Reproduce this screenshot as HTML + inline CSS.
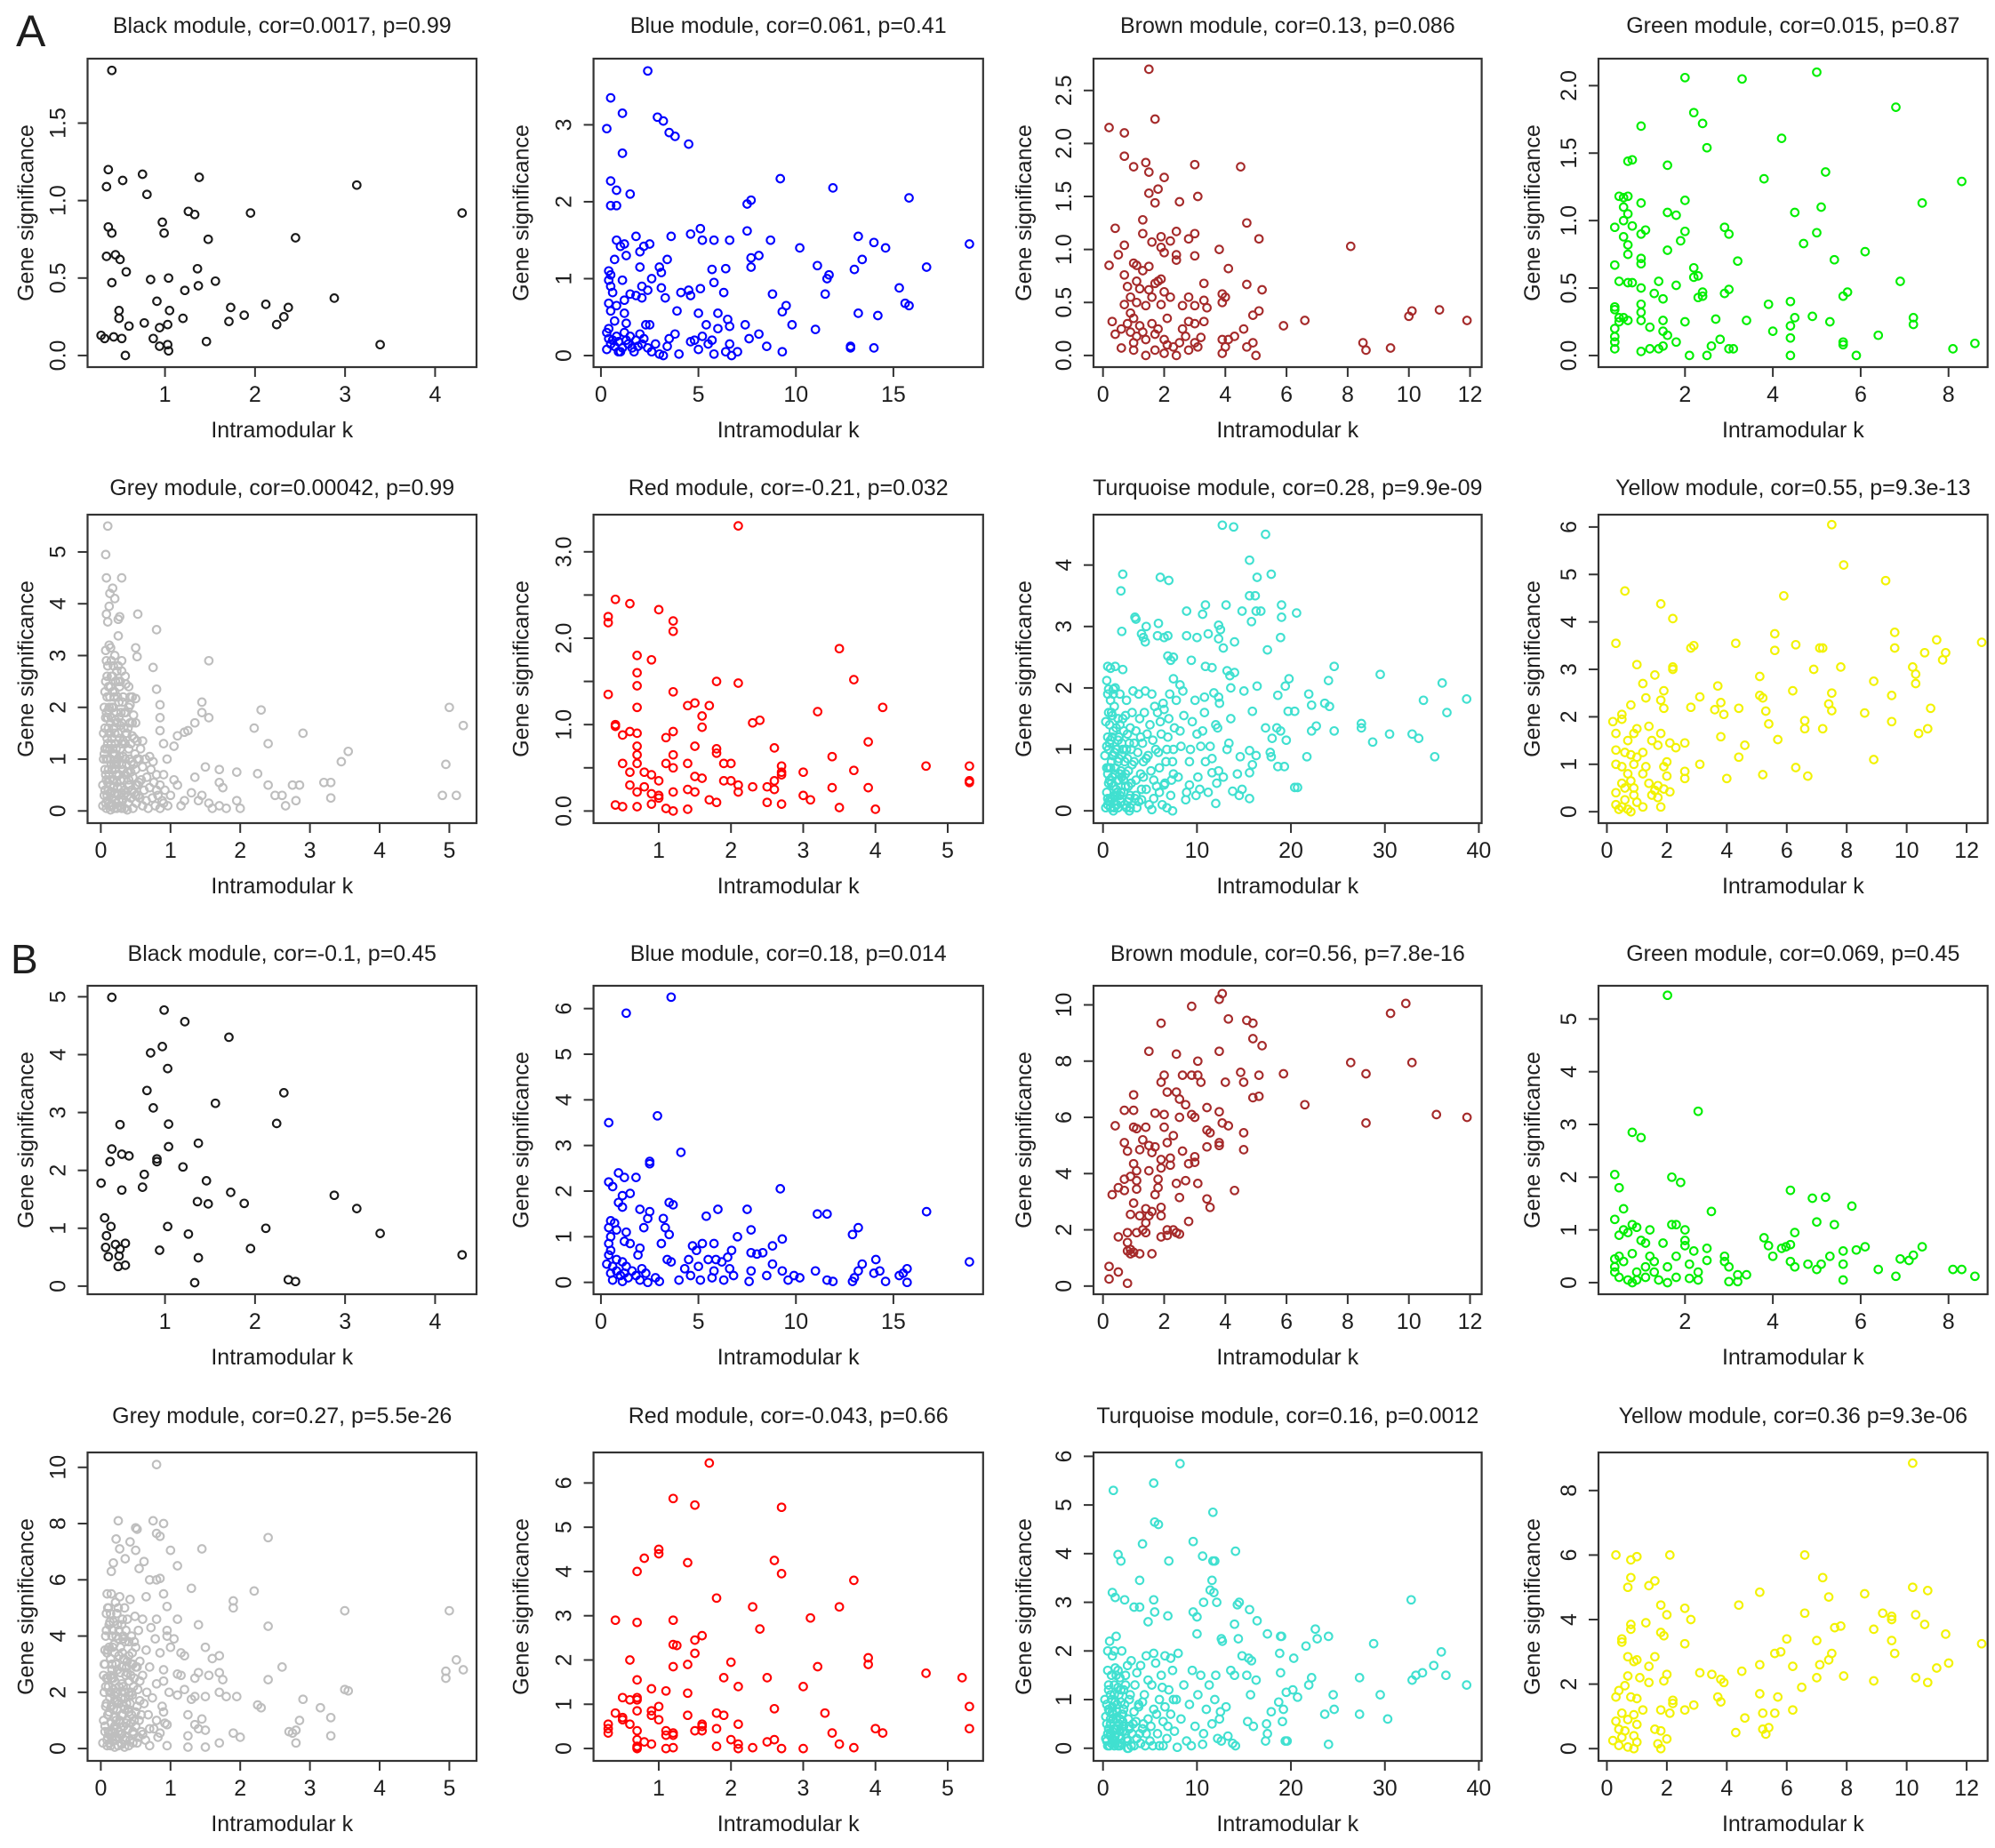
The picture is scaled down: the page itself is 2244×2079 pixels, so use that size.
<!DOCTYPE html>
<html><head><meta charset="utf-8">
<style>
html,body{margin:0;padding:0;background:#fff;}
svg{display:block;}
text{font-family:"Liberation Sans",Arial,sans-serif;fill:#1e1e1e;}
</style></head>
<body>
<svg id="fig" width="2244" height="2079" viewBox="0 0 2244 2079" xmlns="http://www.w3.org/2000/svg">
<rect width="2244" height="2079" fill="#fff"/>
<text x="18" y="52" font-size="50">A</text>
<text x="12" y="1095" font-size="46">B</text>
</svg>
<script>
// ---------- data (x = Intramodular k, y = Gene significance) ----------
const blackA=[[0.41,1.84],[0.37,1.20],[0.35,1.09],[0.53,1.13],[0.75,1.17],[0.80,1.04],[1.38,1.15],[3.13,1.10],[1.26,0.93],[1.33,0.91],[1.95,0.92],[4.30,0.92],[0.97,0.86],[0.99,0.79],[0.37,0.83],[0.41,0.79],[1.48,0.75],[2.45,0.76],[0.35,0.64],[0.45,0.65],[0.50,0.62],[0.57,0.54],[1.36,0.56],[0.41,0.47],[0.84,0.49],[1.04,0.50],[1.37,0.45],[1.56,0.48],[0.91,0.35],[1.22,0.42],[2.12,0.33],[2.88,0.37],[0.49,0.29],[1.05,0.29],[1.73,0.31],[2.37,0.31],[0.49,0.24],[0.77,0.21],[1.20,0.24],[1.71,0.22],[1.88,0.26],[2.32,0.25],[2.24,0.20],[0.60,0.19],[0.94,0.18],[1.03,0.20],[0.29,0.13],[0.33,0.11],[0.43,0.12],[0.52,0.11],[0.87,0.11],[0.94,0.06],[1.03,0.07],[1.04,0.03],[1.46,0.09],[3.39,0.07],[0.56,0.00]];
const blueA=[[2.4,3.7],[0.5,3.35],[0.3,2.95],[1.1,3.15],[2.9,3.1],[3.2,3.05],[3.5,2.9],[3.8,2.85],[4.5,2.75],[1.1,2.63],[0.5,2.27],[0.8,2.15],[1.5,2.1],[0.5,1.95],[0.8,1.95],[9.2,2.3],[11.9,2.18],[15.8,2.05],[7.5,1.97],[7.7,2.02],[1.8,1.55],[0.8,1.5],[1.0,1.42],[1.2,1.45],[2.0,1.35],[2.2,1.42],[2.5,1.45],[3.6,1.55],[4.6,1.58],[5.1,1.65],[5.2,1.5],[5.8,1.5],[6.6,1.5],[7.5,1.62],[8.7,1.5],[10.2,1.4],[13.2,1.55],[14.0,1.47],[14.6,1.4],[18.9,1.45],[8.1,1.3],[7.7,1.27],[3.4,1.25],[0.7,1.25],[1.3,1.3],[2.0,1.15],[3.0,1.15],[5.7,1.12],[6.4,1.13],[7.7,1.15],[11.1,1.17],[11.7,1.05],[13.0,1.12],[13.4,1.25],[16.7,1.15],[0.4,1.1],[0.5,1.05],[0.4,0.98],[1.1,0.98],[2.6,1.0],[3.1,1.08],[5.8,0.95],[11.6,1.0],[15.3,0.88],[0.5,0.9],[0.6,0.82],[1.5,0.8],[1.8,0.78],[2.1,0.9],[2.4,0.85],[3.1,0.88],[3.3,0.75],[4.1,0.82],[4.5,0.85],[4.6,0.78],[5.1,0.87],[6.3,0.82],[8.8,0.8],[11.5,0.8],[0.4,0.68],[0.8,0.65],[1.2,0.72],[2.1,0.75],[0.5,0.58],[1.2,0.55],[3.9,0.58],[5.0,0.55],[6.0,0.55],[9.3,0.57],[9.5,0.65],[13.2,0.55],[14.2,0.52],[15.6,0.68],[15.8,0.65],[0.7,0.45],[1.3,0.42],[2.3,0.4],[2.5,0.4],[5.4,0.4],[6.5,0.47],[6.6,0.38],[7.4,0.4],[9.8,0.4],[11.0,0.34],[6.0,0.35],[0.3,0.3],[0.4,0.22],[0.5,0.15],[0.6,0.2],[0.7,0.12],[0.8,0.25],[0.9,0.18],[1.0,0.05],[1.1,0.1],[1.2,0.3],[1.3,0.2],[1.4,0.15],[1.5,0.25],[1.6,0.1],[1.8,0.2],[1.9,0.12],[2.0,0.28],[2.1,0.15],[2.2,0.22],[2.4,0.1],[2.6,0.05],[2.8,0.15],[3.0,0.02],[3.2,0.0],[3.4,0.12],[3.5,0.22],[3.8,0.28],[4.0,0.02],[4.6,0.18],[4.8,0.2],[5.0,0.08],[5.2,0.25],[5.5,0.15],[5.7,0.2],[5.8,0.02],[6.4,0.05],[6.6,0.15],[6.7,0.0],[7.0,0.05],[7.6,0.22],[8.1,0.28],[8.5,0.12],[9.3,0.05],[12.8,0.12],[12.8,0.1],[14.0,0.1],[0.4,0.35],[0.9,0.05],[0.3,0.08],[1.7,0.05]];
const brownA=[[1.5,2.7],[0.2,2.15],[0.7,2.1],[1.7,2.23],[0.7,1.88],[1.4,1.82],[1.0,1.78],[1.5,1.73],[3.0,1.8],[4.5,1.78],[2.0,1.68],[1.8,1.57],[1.5,1.53],[1.7,1.44],[2.5,1.45],[3.1,1.5],[1.3,1.28],[0.4,1.2],[4.7,1.25],[1.3,1.15],[2.4,1.17],[3.0,1.15],[1.9,1.12],[2.2,1.08],[2.8,1.1],[5.1,1.1],[0.7,1.04],[1.6,1.07],[1.9,1.02],[8.1,1.03],[3.8,1.0],[0.5,0.95],[2.0,0.97],[2.4,0.95],[3.0,0.94],[2.4,0.9],[0.2,0.85],[1.0,0.87],[1.1,0.85],[1.5,0.84],[4.1,0.82],[0.7,0.76],[1.3,0.8],[1.9,0.72],[1.7,0.68],[3.3,0.68],[4.7,0.67],[0.8,0.65],[1.2,0.63],[1.5,0.62],[2.0,0.6],[1.1,0.7],[1.8,0.7],[5.2,0.62],[3.9,0.58],[4.0,0.55],[2.8,0.55],[0.9,0.55],[1.6,0.55],[2.2,0.55],[0.7,0.48],[1.1,0.5],[1.4,0.47],[1.9,0.48],[2.6,0.47],[3.0,0.47],[3.4,0.45],[3.3,0.52],[3.9,0.5],[5.1,0.42],[4.9,0.38],[10.1,0.42],[10.0,0.37],[11.0,0.43],[11.9,0.33],[6.6,0.33],[5.9,0.28],[0.3,0.32],[0.4,0.2],[0.6,0.25],[0.8,0.3],[0.9,0.22],[1.0,0.35],[1.1,0.18],[1.2,0.28],[1.3,0.22],[1.4,0.15],[1.6,0.3],[1.7,0.2],[1.8,0.25],[2.0,0.15],[2.1,0.1],[2.3,0.08],[2.5,0.12],[2.6,0.25],[2.7,0.18],[2.8,0.32],[3.0,0.12],[3.1,0.08],[3.3,0.32],[3.2,0.17],[3.9,0.15],[4.1,0.15],[4.3,0.18],[4.6,0.25],[4.7,0.08],[4.9,0.12],[5.0,0.0],[3.9,0.02],[2.8,0.05],[2.4,0.0],[2.0,0.02],[1.4,0.0],[1.7,0.05],[0.6,0.07],[1.0,0.12],[8.5,0.12],[8.6,0.05],[9.4,0.07],[3.0,0.3],[2.1,0.35],[0.9,0.4],[1.0,0.05],[4.0,0.08]];
const greenA=[[5.0,2.1],[2.0,2.06],[3.3,2.05],[6.8,1.84],[2.2,1.8],[2.4,1.72],[1.0,1.7],[4.2,1.61],[2.5,1.54],[0.7,1.44],[0.8,1.45],[1.6,1.41],[5.2,1.36],[3.8,1.31],[8.3,1.29],[0.5,1.18],[0.6,1.17],[0.7,1.18],[1.0,1.13],[2.0,1.15],[7.4,1.13],[5.1,1.1],[0.6,1.1],[0.7,1.05],[1.6,1.06],[1.8,1.04],[4.5,1.06],[0.4,0.95],[0.6,1.0],[0.8,0.96],[1.1,0.93],[2.0,0.92],[2.9,0.95],[3.0,0.9],[1.0,0.9],[5.0,0.91],[0.6,0.88],[0.7,0.82],[1.9,0.85],[4.7,0.83],[6.1,0.77],[1.6,0.78],[0.7,0.75],[1.0,0.72],[1.0,0.68],[0.4,0.67],[3.2,0.7],[5.4,0.71],[2.2,0.65],[2.2,0.58],[2.3,0.59],[0.5,0.55],[0.7,0.54],[0.8,0.54],[1.4,0.55],[6.9,0.55],[1.0,0.5],[1.8,0.52],[3.0,0.49],[2.9,0.46],[1.3,0.46],[2.4,0.47],[2.4,0.44],[2.3,0.43],[1.5,0.42],[5.6,0.44],[5.7,0.47],[3.9,0.38],[4.4,0.4],[1.0,0.38],[1.0,0.32],[0.4,0.36],[0.4,0.34],[0.5,0.28],[0.6,0.28],[0.7,0.26],[1.0,0.26],[0.5,0.25],[2.0,0.25],[2.7,0.27],[3.4,0.26],[1.5,0.26],[4.5,0.28],[4.9,0.29],[5.3,0.25],[7.2,0.28],[7.2,0.23],[0.4,0.2],[1.2,0.21],[1.5,0.18],[1.6,0.15],[4.0,0.18],[4.4,0.22],[0.4,0.14],[0.4,0.1],[0.4,0.05],[2.8,0.12],[1.8,0.1],[4.4,0.13],[6.4,0.15],[8.6,0.09],[8.1,0.05],[5.6,0.08],[5.6,0.1],[2.6,0.07],[1.0,0.03],[1.2,0.05],[1.4,0.05],[1.5,0.07],[3.0,0.05],[3.1,0.05],[2.1,0.0],[2.5,0.0],[4.4,0.0],[5.9,0.0]];
const greyA=[[0.1,5.5],[0.07,4.95],[0.08,4.5],[0.3,4.5],[0.17,4.3],[0.13,4.2],[0.2,4.1],[0.12,3.95],[0.08,3.8],[0.27,3.75],[0.53,3.8],[0.1,3.65],[0.25,3.7],[0.8,3.5],[0.25,3.38],[0.5,3.15],[0.52,2.98],[0.14,3.15],[0.07,3.1],[1.55,2.9],[0.75,2.77],[0.3,2.7],[0.8,2.35],[0.5,2.17],[0.42,2.05],[0.85,2.05],[1.45,2.1],[2.3,1.95],[1.45,1.9],[1.55,1.8],[0.85,1.8],[0.5,1.7],[1.35,1.7],[2.2,1.6],[0.85,1.55],[1.1,1.45],[1.2,1.52],[1.25,1.55],[2.9,1.5],[0.9,1.3],[0.6,1.35],[1.05,1.25],[2.4,1.3],[5.0,2.0],[5.2,1.65],[3.55,1.15],[3.45,0.95],[4.95,0.9],[4.9,0.3],[5.1,0.3],[0.7,1.05],[0.95,1.0],[0.75,0.95],[1.5,0.85],[1.7,0.8],[1.95,0.75],[2.25,0.72],[1.35,0.65],[0.9,0.7],[1.05,0.6],[1.1,0.5],[1.7,0.55],[1.75,0.45],[2.4,0.5],[2.75,0.5],[2.85,0.5],[3.2,0.55],[3.3,0.55],[3.3,0.25],[2.8,0.2],[2.65,0.1],[2.5,0.3],[2.6,0.3],[1.95,0.2],[2.0,0.05],[1.8,0.05],[1.7,0.1],[1.55,0.15],[1.4,0.2],[1.3,0.35],[1.2,0.2],[1.45,0.3],[1.6,0.05],[1.0,0.3],[0.9,0.15],[0.8,0.4],[1.15,0.1],[0.85,0.05],
[0.03,0.1],[0.03,0.5],[0.04,1.0],[0.04,1.5],[0.05,2.0],[0.05,0.3],[0.06,0.8],[0.06,1.2],[0.07,1.8],[0.07,2.5],[0.08,0.05],[0.08,0.6],[0.09,1.4],[0.09,2.2],[0.1,0.2],[0.1,1.0],[0.1,2.8],[0.11,0.4],[0.11,1.6],[0.12,2.0],[0.12,0.7],[0.13,0.1],[0.13,1.2],[0.14,2.4],[0.14,0.5],[0.15,1.8],[0.15,0.9],[0.16,0.25],[0.16,1.4],[0.17,2.6],[0.17,0.6],[0.18,2.0],[0.18,1.1],[0.19,0.05],[0.19,1.6],[0.2,0.35],[0.2,0.8],[0.2,2.3],[0.21,1.3],[0.22,0.15],[0.22,1.9],[0.23,0.55],[0.23,2.7],[0.24,1.0],[0.25,0.3],[0.25,1.5],[0.26,2.1],[0.26,0.7],[0.27,0.1],[0.28,1.2],[0.28,2.5],[0.29,0.45],[0.3,1.7],[0.3,0.9],[0.31,0.2],[0.32,2.2],[0.32,1.35],[0.33,0.6],[0.34,0.05],[0.34,1.9],[0.35,1.0],[0.36,0.35],[0.36,2.45],[0.37,1.5],[0.38,0.75],[0.39,0.15],[0.4,1.2],[0.4,2.0],[0.41,0.5],[0.42,1.7],[0.43,0.25],[0.44,0.95],[0.45,1.45],[0.46,0.05],[0.46,0.65],[0.47,1.85],[0.48,0.35],[0.49,1.1],[0.5,0.8],[0.51,0.15],[0.52,1.35],[0.53,0.5],[0.55,1.0],[0.56,0.25],[0.57,1.2],[0.58,0.6],[0.6,0.1],[0.6,0.85],[0.62,0.4],[0.64,1.0],[0.65,0.2],[0.66,0.65],[0.68,0.05],[0.7,0.45],[0.72,0.8],[0.74,0.25],[0.76,0.55],[0.78,0.1],[0.8,0.7],[0.82,0.3],[0.85,0.5],[0.88,0.2],[0.92,0.4],[0.96,0.1],[0.12,3.2],[0.2,3.0],[0.15,2.9],[0.3,2.9],[0.08,2.9],[0.35,2.6],[0.25,2.8],[0.4,2.4],[0.45,2.2],[0.05,1.1],[0.07,0.15],[0.1,0.55],[0.14,0.02],[0.18,0.45],[0.22,0.9],[0.27,1.05],[0.33,0.3],[0.38,0.02],[0.43,0.75],[0.5,0.3],[0.55,0.55]];
const greyACore=[[0.06,0.4],[0.06,1.6],[0.06,2.3],[0.08,1.0],[0.08,1.9],[0.09,0.3],[0.09,2.6],[0.1,1.3],[0.1,1.8],[0.11,0.8],[0.11,2.4],[0.12,0.15],[0.12,1.5],[0.13,0.6],[0.13,2.2],[0.14,1.0],[0.14,1.7],[0.15,0.35],[0.15,2.6],[0.16,0.8],[0.16,2.0],[0.17,1.2],[0.17,0.1],[0.18,1.6],[0.18,2.8],[0.19,0.6],[0.19,2.2],[0.2,1.1],[0.2,1.5],[0.21,0.2],[0.21,2.5],[0.22,0.7],[0.22,1.2],[0.23,1.7],[0.23,0.05],[0.24,2.2],[0.24,0.45],[0.25,1.0],[0.26,1.8],[0.26,0.2],[0.27,1.4],[0.27,2.4],[0.28,0.6],[0.29,1.9],[0.3,0.35],[0.3,1.3],[0.31,2.1],[0.32,0.8],[0.33,1.6],[0.34,0.4],[0.35,1.3],[0.36,1.9],[0.37,0.9],[0.38,0.3],[0.39,1.6],[0.4,0.6],[0.41,1.0],[0.42,2.2],[0.43,1.3],[0.44,0.4],[0.45,1.7],[0.47,0.9],[0.48,1.4],[0.5,0.5],[0.52,1.0],[0.54,0.3],[0.07,0.7],[0.09,1.2],[0.11,1.95],[0.13,0.35],[0.15,1.3],[0.17,2.3],[0.19,0.9],[0.21,1.75],[0.23,0.95],[0.25,2.5],[0.28,1.65],[0.3,0.05],[0.32,1.05],[0.35,0.7]];
const redA=[[2.1,3.3],[0.4,2.45],[0.6,2.4],[0.3,2.25],[0.3,2.18],[1.0,2.33],[1.2,2.2],[1.2,2.08],[3.5,1.88],[0.7,1.8],[0.9,1.75],[0.7,1.6],[0.7,1.45],[1.8,1.5],[2.1,1.48],[3.7,1.52],[0.3,1.35],[1.2,1.38],[1.4,1.22],[1.5,1.25],[1.7,1.22],[0.7,1.2],[4.1,1.2],[3.2,1.15],[1.6,1.1],[2.4,1.05],[2.3,1.02],[0.4,1.0],[0.4,0.98],[1.6,0.97],[0.6,0.92],[0.7,0.9],[1.2,0.92],[0.5,0.88],[1.1,0.85],[3.9,0.8],[0.7,0.75],[1.5,0.75],[2.6,0.73],[1.8,0.72],[1.8,0.67],[0.7,0.65],[1.2,0.65],[3.4,0.63],[0.5,0.55],[0.7,0.55],[1.1,0.55],[1.4,0.55],[1.9,0.55],[2.0,0.55],[2.7,0.52],[4.7,0.52],[5.3,0.52],[0.6,0.45],[0.8,0.45],[0.9,0.42],[1.2,0.5],[1.5,0.4],[1.6,0.38],[2.7,0.45],[2.7,0.42],[3.0,0.45],[3.7,0.47],[2.6,0.35],[0.6,0.3],[0.7,0.22],[0.8,0.28],[1.0,0.35],[1.9,0.35],[2.0,0.35],[2.1,0.3],[2.3,0.28],[2.5,0.28],[2.6,0.25],[3.4,0.27],[3.9,0.27],[5.3,0.35],[5.3,0.33],[0.9,0.2],[1.0,0.15],[1.0,0.18],[1.2,0.22],[1.4,0.25],[1.5,0.22],[2.1,0.22],[3.0,0.18],[3.1,0.13],[1.7,0.13],[1.8,0.1],[2.5,0.1],[2.7,0.08],[0.4,0.07],[0.5,0.05],[0.7,0.05],[0.9,0.08],[1.1,0.03],[1.2,0.0],[1.4,0.02],[3.5,0.04],[4.0,0.02]];
const turquoiseA=[[12.7,4.65],[13.9,4.62],[17.3,4.5],[15.6,4.08],[2.1,3.85],[6.1,3.8],[7.0,3.75],[17.9,3.85],[16.4,3.8],[1.9,3.58],[15.6,3.5],[16.2,3.5],[13.1,3.35],[10.9,3.35],[8.9,3.25],[10.6,3.2],[14.8,3.25],[16.3,3.25],[16.8,3.25],[19.0,3.35],[20.6,3.22],[3.4,3.15],[3.5,3.12],[15.8,3.08],[19.0,3.15],[5.9,3.05],[12.3,3.02],[4.6,3.0],[12.5,2.95],[2.0,2.92],[4.1,2.88],[4.3,2.82],[5.8,2.85],[6.5,2.82],[8.9,2.85],[10.0,2.82],[11.2,2.88],[12.3,2.8],[14.0,2.75],[18.9,2.82],[4.5,2.75],[6.9,2.85],[12.8,2.65],[17.5,2.62],[6.9,2.52],[7.2,2.45],[7.5,2.5],[9.4,2.45],[10.9,2.35],[11.6,2.33],[13.2,2.28],[13.5,2.2],[14.0,2.25],[24.6,2.35],[29.5,2.22],[36.1,2.08],[0.5,2.35],[0.8,2.32],[1.3,2.35],[2.1,2.3],[0.4,2.12],[0.6,1.98],[1.1,1.98],[7.5,2.15],[8.2,2.05],[8.5,1.95],[11.8,1.92],[13.6,2.0],[15.0,1.95],[16.4,2.03],[19.4,2.03],[19.8,2.15],[24.0,2.12],[12.3,1.85],[10.8,1.85],[18.6,1.88],[21.9,1.9],[23.6,1.75],[24.1,1.7],[34.1,1.8],[38.7,1.82],[36.6,1.6],[19.7,1.62],[20.4,1.62],[22.2,1.72],[15.9,1.62],[27.5,1.42],[27.5,1.35],[30.5,1.25],[32.9,1.25],[33.6,1.18],[28.7,1.12],[35.3,0.88],[22.2,1.3],[22.7,1.38],[24.6,1.3],[17.3,1.35],[18.5,1.35],[18.9,1.3],[19.5,1.15],[18.0,1.18],[21.7,0.88],[17.8,0.95],[17.9,0.88],[18.6,0.72],[19.3,0.72],[20.4,0.38],[20.7,0.38],[16.3,0.9],[15.6,0.98],[15.6,0.62],[14.6,0.88],[15.9,0.75],[14.3,0.6],[13.8,0.32],[14.8,0.35],[15.6,0.2],[14.5,0.25],[12.0,0.12],[12.1,0.45],[11.6,0.62],[10.9,0.8],[11.4,1.05],[10.6,1.3],[12.2,1.35],[13.4,1.1],[12.3,0.65],[9.3,1.0],[9.2,0.42],[8.8,0.18],[9.9,0.25],[10.3,0.35],[10.0,1.25],[8.2,1.3],[7.5,0.6],[6.5,0.42],[7.4,0.0],[6.8,0.05],[6.0,0.3],[5.4,0.5],[5.2,0.02],[4.1,0.18],[3.5,0.25],[2.9,0.05],[1.6,0.05],[1.1,0.0],[0.5,0.1],
[0.4,0.3],[0.5,0.6],[0.6,1.0],[0.7,1.4],[0.8,0.2],[0.9,0.8],[1.0,1.2],[1.1,0.4],[1.2,1.7],[1.3,0.7],[1.4,0.1],[1.5,1.0],[1.6,1.5],[1.7,0.5],[1.8,1.9],[1.9,0.3],[2.0,0.9],[2.2,1.3],[2.4,0.6],[2.5,1.8],[2.6,0.15],[2.8,1.1],[3.0,0.45],[3.1,1.6],[3.3,0.8],[3.5,1.3],[3.6,0.05],[3.8,1.9],[4.0,0.6],[4.2,1.1],[4.4,1.6],[4.6,0.35],[4.8,0.9],[5.0,1.4],[5.2,1.9],[5.4,0.2],[5.6,1.0],[5.8,1.6],[6.0,0.7],[6.2,1.25],[6.4,1.75],[6.6,0.45],[6.8,1.0],[7.0,1.5],[7.2,0.25],[7.4,0.8],[7.6,1.35],[7.8,1.8],[8.0,0.55],[8.3,1.05],[8.6,1.55],[8.9,0.3],[9.2,0.8],[9.5,1.45],[9.8,1.8],[10.1,0.55],[10.4,1.05],[10.8,1.6],[11.2,0.3],[11.6,0.85],[12.0,1.4],[12.4,1.75],[12.8,0.55],[13.2,1.0],[13.6,1.5],[0.5,1.2],[0.7,0.5],[0.9,1.6],[1.1,0.9],[1.3,2.0],[1.5,0.3],[1.7,1.2],[1.9,0.65],[2.1,1.5],[2.3,0.1],[2.5,1.0],[2.7,0.4],[2.9,1.35],[3.2,1.95],[3.4,0.2],[3.7,0.95],[3.9,1.5],[4.1,0.35],[4.3,0.8],[4.5,1.95],[4.7,1.25],[4.9,0.1],[5.1,0.65],[5.3,1.15],[5.5,1.7],[5.7,0.4],[5.9,0.95],[6.1,1.45],[6.3,0.1],[6.5,1.65],[6.7,0.8],[6.9,1.2],[7.1,1.9],[7.3,0.5],[7.5,1.0],[0.3,0.05],[0.4,0.7],[0.6,0.15],[0.8,1.8],[1.0,0.55],[1.2,0.05],[1.4,1.35],[1.6,0.8],[1.8,0.25],[2.0,1.1],[2.2,0.5],[2.4,1.55],[2.6,0.85],[2.8,0.2],[3.0,1.0],[0.2,0.9],[0.3,1.45],[0.5,1.9],[0.6,0.45],[0.8,1.15],[1.0,1.55],[1.1,1.9],[1.3,0.25]];
const turquoiseACore=[[0.5,0.2],[0.6,0.7],[0.7,1.1],[0.8,0.05],[0.9,0.45],[1.0,0.9],[1.1,1.3],[1.2,0.25],[1.3,0.6],[1.4,1.0],[1.5,0.1],[1.6,0.5],[1.7,0.85],[1.8,1.4],[1.9,0.15],[2.0,0.55],[2.2,0.3],[2.3,0.8],[2.5,0.05],[2.7,0.65],[2.9,0.25],[3.1,0.75],[3.3,1.1],[3.5,0.5],[3.8,0.15],[4.0,1.2],[4.3,0.55],[4.6,0.85],[0.4,1.05],[0.6,1.6],[0.8,0.7],[1.0,0.2],[1.2,0.95],[1.4,0.35],[1.6,1.15],[1.8,0.6],[2.1,1.0],[2.4,0.4],[2.6,1.25],[2.8,0.0]];
const yellowA=[[7.5,6.05],[7.9,5.2],[9.3,4.87],[0.6,4.65],[5.9,4.55],[1.8,4.38],[2.2,4.07],[5.6,3.75],[9.6,3.78],[0.3,3.55],[2.9,3.5],[4.3,3.55],[6.3,3.52],[7.1,3.45],[7.2,3.45],[2.8,3.45],[9.6,3.45],[11.0,3.62],[12.5,3.57],[10.6,3.35],[11.3,3.35],[11.2,3.2],[5.6,3.4],[1.0,3.1],[2.2,3.05],[2.2,3.0],[7.8,3.05],[6.9,3.0],[10.2,3.05],[10.3,2.9],[1.6,2.88],[5.1,2.85],[8.9,2.75],[10.3,2.7],[1.2,2.7],[3.7,2.65],[6.2,2.55],[1.9,2.55],[7.5,2.5],[3.1,2.42],[1.3,2.4],[5.2,2.4],[5.1,2.45],[9.5,2.45],[0.8,2.25],[1.8,2.35],[3.8,2.3],[7.4,2.27],[2.8,2.2],[3.6,2.15],[4.4,2.18],[5.3,2.12],[10.8,2.18],[1.9,2.18],[7.5,2.13],[8.6,2.08],[3.9,2.05],[0.5,2.05],[0.2,1.9],[0.5,1.95],[1.0,1.75],[1.4,1.8],[0.9,1.65],[0.3,1.65],[1.8,1.65],[5.4,1.85],[6.6,1.92],[9.5,1.9],[6.6,1.75],[7.2,1.75],[10.7,1.75],[10.4,1.65],[0.7,1.5],[1.5,1.5],[2.1,1.45],[2.6,1.45],[1.7,1.4],[2.3,1.35],[3.8,1.58],[4.6,1.4],[5.7,1.52],[1.2,1.25],[0.6,1.25],[0.8,1.2],[0.3,1.3],[1.0,1.15],[0.9,1.0],[2.0,1.05],[4.4,1.15],[8.9,1.1],[0.3,1.0],[0.5,0.95],[1.3,0.95],[1.9,0.95],[3.1,1.0],[0.7,0.8],[1.2,0.8],[2.0,0.75],[2.6,0.85],[2.6,0.7],[4.0,0.7],[5.2,0.78],[6.3,0.93],[6.7,0.75],[0.5,0.6],[0.8,0.65],[1.4,0.6],[1.7,0.55],[0.6,0.5],[0.9,0.5],[1.6,0.45],[1.9,0.48],[2.1,0.42],[0.3,0.4],[0.9,0.35],[1.5,0.35],[1.7,0.3],[0.6,0.25],[1.0,0.2],[0.3,0.15],[0.5,0.1],[0.7,0.05],[0.8,0.0],[1.2,0.1],[1.8,0.1],[0.4,0.05]];

const blackB=[[0.41,4.99],[0.99,4.77],[1.22,4.57],[1.71,4.30],[0.97,4.14],[0.84,4.03],[1.03,3.76],[0.80,3.38],[2.32,3.34],[0.87,3.08],[1.56,3.16],[0.50,2.79],[1.04,2.80],[2.24,2.81],[1.37,2.47],[0.41,2.37],[1.04,2.41],[0.52,2.28],[0.60,2.25],[0.91,2.20],[0.91,2.15],[0.39,2.15],[1.20,2.06],[0.77,1.93],[0.29,1.78],[1.46,1.82],[0.75,1.71],[0.52,1.66],[1.73,1.62],[2.88,1.57],[1.36,1.46],[1.48,1.42],[1.88,1.43],[3.13,1.34],[0.33,1.18],[0.40,1.03],[1.03,1.03],[2.12,1.00],[0.35,0.87],[1.26,0.90],[3.39,0.91],[0.45,0.72],[0.56,0.74],[0.34,0.67],[0.50,0.64],[0.94,0.62],[1.95,0.65],[0.37,0.51],[0.49,0.52],[1.37,0.49],[4.30,0.54],[0.48,0.34],[0.56,0.36],[1.33,0.06],[2.37,0.11],[2.45,0.08]];
const blueB=[[3.6,6.25],[1.3,5.9],[0.4,3.5],[2.9,3.65],[4.1,2.85],[2.5,2.6],[2.5,2.65],[0.9,2.4],[1.2,2.3],[1.8,2.3],[0.4,2.2],[0.6,2.1],[1.1,1.9],[1.5,1.95],[0.9,1.75],[1.1,1.65],[9.2,2.05],[3.5,1.75],[3.7,1.7],[2.0,1.6],[2.5,1.55],[2.4,1.4],[3.2,1.4],[5.4,1.45],[6.0,1.6],[7.5,1.6],[11.1,1.5],[11.6,1.5],[16.7,1.55],[0.5,1.35],[0.7,1.3],[0.4,1.2],[0.8,1.15],[1.3,1.1],[2.2,1.2],[3.3,1.2],[3.5,1.05],[7.7,1.15],[7.0,1.0],[9.3,0.95],[12.9,1.05],[13.2,1.2],[0.5,1.0],[0.4,0.85],[1.2,0.9],[1.5,0.85],[3.1,0.85],[5.2,0.85],[5.8,0.85],[8.8,0.8],[0.5,0.7],[2.0,0.75],[1.9,0.6],[4.7,0.8],[4.9,0.7],[6.7,0.7],[7.7,0.65],[8.3,0.65],[8.0,0.62],[0.4,0.6],[0.8,0.5],[1.1,0.45],[3.4,0.5],[3.6,0.45],[4.5,0.5],[5.5,0.5],[5.9,0.5],[6.2,0.45],[6.5,0.55],[0.6,0.35],[1.3,0.35],[2.1,0.3],[4.3,0.3],[5.0,0.35],[5.8,0.25],[6.6,0.3],[7.7,0.25],[8.8,0.4],[13.4,0.4],[14.1,0.5],[0.5,0.2],[0.8,0.25],[1.0,0.15],[1.2,0.2],[1.4,0.1],[1.6,0.25],[1.8,0.15],[2.0,0.05],[2.3,0.2],[2.8,0.1],[3.0,0.02],[4.0,0.05],[4.6,0.15],[5.1,0.05],[5.7,0.1],[6.3,0.05],[6.8,0.15],[7.6,0.02],[8.5,0.15],[9.3,0.25],[9.6,0.05],[9.9,0.15],[10.2,0.1],[11.0,0.25],[11.6,0.05],[11.9,0.02],[12.9,0.02],[13.0,0.1],[13.2,0.25],[14.0,0.2],[14.3,0.25],[14.6,0.02],[15.3,0.15],[15.5,0.2],[15.7,0.3],[15.7,0.0],[18.9,0.45],[0.3,0.4],[0.6,0.05],[1.1,0.02],[2.4,0.0]];
const brownB=[[3.9,10.4],[3.8,10.2],[2.9,9.95],[9.9,10.05],[9.4,9.7],[4.1,9.5],[4.7,9.45],[4.9,9.35],[1.9,9.35],[4.9,8.8],[5.2,8.55],[1.5,8.35],[3.8,8.35],[2.4,8.25],[3.1,8.0],[8.1,7.95],[10.1,7.95],[8.6,7.55],[5.9,7.55],[4.5,7.6],[5.1,7.5],[2.6,7.5],[2.9,7.5],[3.1,7.5],[2.0,7.5],[1.9,7.25],[3.2,7.25],[4.0,7.25],[4.6,7.25],[2.1,6.9],[2.4,6.9],[1.0,6.8],[2.5,6.65],[4.9,6.7],[5.1,6.75],[6.6,6.45],[2.7,6.45],[0.7,6.25],[1.0,6.25],[3.4,6.35],[1.7,6.15],[2.0,6.1],[2.9,6.1],[3.0,6.0],[2.5,6.0],[3.8,6.2],[10.9,6.1],[11.9,6.0],[8.6,5.8],[0.4,5.7],[1.0,5.65],[1.1,5.6],[1.4,5.65],[2.0,5.65],[3.4,5.55],[3.9,5.8],[4.1,5.7],[3.5,5.45],[4.6,5.45],[2.3,5.35],[0.7,5.1],[1.3,5.2],[1.5,5.0],[2.1,5.1],[3.8,5.1],[3.4,4.95],[3.8,5.0],[1.7,4.95],[0.8,4.8],[1.2,4.85],[1.6,4.75],[2.6,4.8],[4.6,4.85],[1.9,4.5],[2.2,4.55],[3.0,4.6],[1.0,4.35],[1.1,4.1],[2.2,4.3],[2.8,4.35],[3.0,4.4],[1.9,4.2],[1.5,4.1],[0.9,3.9],[1.1,3.75],[0.7,3.8],[1.8,3.8],[2.4,3.65],[2.7,3.75],[3.1,3.65],[0.5,3.5],[0.7,3.4],[1.1,3.45],[1.8,3.5],[4.3,3.4],[0.3,3.25],[1.7,3.25],[2.5,3.15],[3.4,3.1],[3.5,2.8],[1.0,2.95],[1.4,2.75],[1.6,2.65],[1.9,2.8],[0.9,2.55],[1.2,2.5],[1.5,2.5],[1.9,2.5],[1.4,2.25],[2.8,2.3],[1.3,2.0],[2.1,2.0],[2.3,2.0],[0.8,1.9],[1.1,1.9],[1.4,1.9],[2.5,1.85],[2.4,1.9],[1.9,1.75],[0.5,1.75],[2.1,1.8],[0.8,1.55],[0.9,1.3],[0.8,1.25],[0.9,1.15],[1.0,1.2],[1.2,1.15],[1.6,1.15],[0.2,0.7],[0.5,0.5],[0.2,0.25],[0.8,0.1]];
const greenB=[[1.6,5.45],[2.3,3.25],[0.8,2.85],[1.0,2.75],[0.4,2.05],[1.7,2.0],[1.9,1.9],[0.5,1.8],[4.4,1.75],[4.9,1.6],[5.2,1.62],[5.8,1.45],[0.6,1.4],[2.6,1.35],[0.4,1.2],[5.0,1.15],[5.4,1.1],[1.7,1.1],[1.8,1.1],[0.8,1.1],[0.9,1.05],[0.6,1.0],[2.0,1.0],[1.2,1.0],[0.5,0.9],[0.7,0.95],[4.5,0.95],[3.8,0.85],[1.0,0.8],[1.1,0.75],[1.5,0.75],[2.0,0.8],[2.0,0.7],[3.9,0.7],[4.4,0.72],[4.3,0.68],[4.2,0.65],[6.1,0.68],[5.9,0.62],[7.4,0.68],[2.5,0.65],[2.2,0.6],[5.6,0.6],[0.8,0.55],[1.2,0.5],[1.8,0.5],[0.5,0.5],[0.4,0.45],[2.9,0.5],[4.0,0.5],[5.3,0.5],[7.2,0.52],[6.9,0.45],[7.1,0.42],[0.6,0.4],[1.3,0.4],[2.1,0.35],[2.5,0.42],[2.9,0.4],[4.4,0.4],[4.8,0.35],[5.6,0.35],[5.1,0.35],[0.4,0.3],[1.1,0.3],[1.6,0.3],[3.0,0.3],[4.5,0.3],[5.0,0.25],[8.1,0.25],[8.3,0.25],[0.4,0.2],[0.9,0.2],[1.3,0.2],[2.3,0.2],[3.2,0.15],[3.4,0.15],[6.4,0.25],[6.8,0.12],[8.6,0.12],[0.5,0.1],[0.7,0.05],[0.9,0.05],[1.1,0.1],[1.4,0.05],[1.8,0.1],[2.1,0.08],[2.3,0.05],[3.0,0.02],[3.2,0.02],[0.8,0.0],[1.6,0.0],[5.6,0.05]];
const greyB=[[0.8,10.1],[0.25,8.1],[0.75,8.1],[0.9,8.0],[0.5,7.85],[0.52,7.8],[0.8,7.65],[0.85,7.55],[2.4,7.5],[0.22,7.45],[0.42,7.35],[0.27,7.1],[0.5,7.05],[1.0,7.05],[1.45,7.1],[0.35,6.75],[0.62,6.65],[0.18,6.6],[1.1,6.5],[0.15,6.3],[0.55,6.4],[0.8,6.0],[0.85,6.05],[0.7,6.0],[1.3,5.7],[2.2,5.6],[1.9,5.25],[1.9,5.0],[3.5,4.9],[5.0,4.9],[0.9,5.5],[0.95,5.05],[0.65,5.4],[1.1,4.6],[1.4,4.4],[2.4,4.35],[0.8,4.6],[0.95,4.2],[1.05,3.9],[1.5,3.6],[1.6,3.2],[1.7,3.3],[1.15,3.4],[1.2,3.3],[2.6,2.9],[5.1,3.15],[5.2,2.8],[4.95,2.75],[4.95,2.5],[1.1,2.65],[1.15,2.6],[1.4,2.7],[1.55,2.6],[1.7,2.7],[1.75,2.45],[2.4,2.45],[1.35,2.5],[0.9,2.4],[1.2,2.1],[1.7,2.0],[1.8,1.85],[1.95,1.85],[1.5,1.85],[1.35,1.85],[1.3,1.75],[1.1,1.9],[3.5,2.1],[3.55,2.05],[2.9,1.75],[2.25,1.55],[2.3,1.45],[3.15,1.45],[3.3,1.1],[2.85,1.0],[0.9,1.3],[1.25,1.2],[1.45,1.05],[1.35,0.85],[1.5,0.65],[1.4,0.7],[2.7,0.6],[2.8,0.65],[2.75,0.55],[1.9,0.55],[2.0,0.4],[1.25,0.45],[1.7,0.2],[1.5,0.05],[1.25,0.05],[2.8,0.2],[3.3,0.45],[0.95,0.1],[0.85,0.55],[0.7,0.7],[0.8,1.0],[0.95,0.85],
[0.03,0.2],[0.04,1.0],[0.05,2.0],[0.05,3.0],[0.06,0.6],[0.07,4.0],[0.07,1.5],[0.08,2.5],[0.09,0.1],[0.1,3.5],[0.1,1.2],[0.11,5.0],[0.11,2.2],[0.12,0.5],[0.13,4.5],[0.13,1.8],[0.14,3.2],[0.15,0.9],[0.15,5.5],[0.16,2.8],[0.17,0.3],[0.17,4.2],[0.18,1.4],[0.19,3.7],[0.2,2.4],[0.2,0.05],[0.21,5.2],[0.22,1.0],[0.22,3.0],[0.23,4.8],[0.24,2.0],[0.25,0.6],[0.25,3.9],[0.26,1.6],[0.27,5.4],[0.28,2.7],[0.29,0.2],[0.3,4.4],[0.3,1.2],[0.31,3.4],[0.32,2.2],[0.33,0.8],[0.34,5.0],[0.35,1.8],[0.35,3.8],[0.36,0.4],[0.37,2.9],[0.38,4.6],[0.39,1.4],[0.4,0.1],[0.4,3.3],[0.41,2.4],[0.42,5.3],[0.43,0.9],[0.44,4.0],[0.45,1.9],[0.46,3.0],[0.47,0.5],[0.48,2.5],[0.49,4.7],[0.5,1.3],[0.5,3.6],[0.52,0.2],[0.53,2.1],[0.54,4.2],[0.55,1.0],[0.56,3.1],[0.58,0.6],[0.6,2.6],[0.6,4.6],[0.62,1.6],[0.64,0.3],[0.65,3.5],[0.66,2.0],[0.68,1.2],[0.7,0.1],[0.7,2.9],[0.72,4.3],[0.74,1.8],[0.76,0.7],[0.78,3.9],[0.8,2.3],[0.82,0.4],[0.85,3.4],[0.88,1.5],[0.9,2.8],[0.92,0.9],[0.95,4.0],[0.98,2.0],[1.0,3.6],[0.06,3.5],[0.08,4.8],[0.09,5.5],[0.12,1.3],[0.14,0.1],[0.16,4.0],[0.18,2.1],[0.2,1.7],[0.23,0.4],[0.26,3.3],[0.28,0.9],[0.32,4.0],[0.34,0.05],[0.36,2.6],[0.38,1.0],[0.42,1.6],[0.46,0.2],[0.48,3.8],[0.52,2.9],[0.56,1.7],[0.6,0.5],[0.04,2.6],[0.1,0.4],[0.15,2.5],[0.19,0.7],[0.24,4.4],[0.3,0.15],[0.33,1.5],[0.4,2.0],[0.44,3.0],[0.5,0.8]];
const greyBCore=[[0.06,0.8],[0.06,3.0],[0.08,1.6],[0.08,4.2],[0.09,0.3],[0.1,2.5],[0.1,5.0],[0.11,1.2],[0.12,3.6],[0.13,0.2],[0.13,2.0],[0.14,4.8],[0.15,1.5],[0.16,3.0],[0.17,0.6],[0.18,2.5],[0.18,4.5],[0.19,1.1],[0.2,3.4],[0.21,0.3],[0.21,2.0],[0.22,4.0],[0.23,1.4],[0.24,2.8],[0.25,0.1],[0.25,5.0],[0.26,2.2],[0.27,1.0],[0.28,3.6],[0.29,1.8],[0.3,0.5],[0.3,2.9],[0.31,4.6],[0.32,1.2],[0.33,3.2],[0.34,2.0],[0.35,0.3],[0.36,4.2],[0.37,1.6],[0.38,2.7],[0.39,0.7],[0.4,3.8],[0.41,1.9],[0.42,0.3],[0.43,2.6],[0.44,1.2],[0.45,3.4],[0.46,0.6],[0.47,2.2],[0.48,1.0],[0.5,2.9],[0.52,1.5],[0.54,0.4],[0.56,2.4],[0.58,1.2],[0.07,2.2],[0.09,3.4],[0.11,0.6],[0.12,4.4],[0.14,2.6],[0.16,0.4],[0.17,3.6],[0.19,1.9],[0.2,0.8],[0.22,3.0],[0.24,1.7],[0.26,4.2],[0.28,0.5],[0.3,2.3],[0.32,3.9],[0.34,1.4],[0.36,0.9],[0.38,3.1],[0.4,1.3],[0.44,2.0]];
const redB=[[1.7,6.45],[1.2,5.65],[1.5,5.5],[2.7,5.45],[1.0,4.5],[1.0,4.4],[0.8,4.3],[1.4,4.2],[2.6,4.25],[0.7,4.0],[2.7,3.95],[3.7,3.8],[1.8,3.4],[2.3,3.2],[3.5,3.2],[3.1,2.95],[0.4,2.9],[0.7,2.85],[1.2,2.9],[2.4,2.7],[1.6,2.55],[1.5,2.45],[1.2,2.35],[1.25,2.33],[1.5,2.15],[0.6,2.0],[3.9,2.05],[3.9,1.9],[2.0,1.95],[1.4,1.9],[1.2,1.85],[3.2,1.85],[4.7,1.7],[1.9,1.6],[2.5,1.6],[5.2,1.6],[0.7,1.55],[2.1,1.4],[3.0,1.4],[0.9,1.35],[1.1,1.3],[1.4,1.25],[0.5,1.15],[0.6,1.1],[0.7,1.15],[0.7,1.1],[1.0,0.95],[2.6,0.9],[5.3,0.95],[0.9,0.85],[0.4,0.8],[0.7,0.85],[0.5,0.7],[0.9,0.75],[1.0,0.65],[1.4,0.75],[1.8,0.8],[1.9,0.75],[3.3,0.8],[0.3,0.55],[0.6,0.55],[0.5,0.65],[0.3,0.45],[1.6,0.55],[1.6,0.5],[2.1,0.55],[4.0,0.45],[5.3,0.45],[1.1,0.4],[1.5,0.4],[1.6,0.4],[1.8,0.45],[0.3,0.35],[0.7,0.4],[1.1,0.3],[1.2,0.3],[1.2,0.35],[3.4,0.35],[4.1,0.35],[0.7,0.2],[0.8,0.15],[0.9,0.1],[2.0,0.2],[2.1,0.1],[2.6,0.2],[2.5,0.15],[3.5,0.1],[0.7,0.05],[0.7,0.02],[0.7,0.0],[1.1,0.0],[1.2,0.02],[1.8,0.05],[2.1,0.0],[2.3,0.02],[2.7,0.0],[3.0,0.0],[3.7,0.02]];
const turquoiseB=[[8.2,5.85],[5.4,5.45],[1.1,5.3],[11.7,4.85],[5.5,4.65],[5.9,4.6],[9.6,4.25],[4.2,4.2],[14.1,4.05],[1.6,3.98],[1.9,3.85],[10.6,3.95],[11.7,3.85],[11.9,3.85],[7.0,3.85],[3.9,3.45],[11.6,3.45],[11.4,3.25],[11.8,3.2],[1.0,3.2],[1.3,3.1],[2.3,3.05],[5.4,3.05],[10.7,3.0],[12.1,3.0],[14.3,2.95],[14.5,3.0],[32.8,3.05],[3.3,2.9],[3.9,2.9],[5.5,2.8],[9.6,2.8],[10.0,2.7],[6.9,2.72],[15.6,2.85],[16.4,2.62],[4.8,2.6],[14.0,2.55],[17.5,2.35],[10.0,2.35],[12.6,2.25],[12.7,2.2],[14.4,2.25],[18.9,2.3],[19.0,2.3],[22.6,2.45],[22.8,2.25],[24.0,2.3],[21.6,2.1],[28.8,2.15],[36.0,1.98],[35.2,1.7],[34.0,1.55],[33.3,1.5],[32.9,1.4],[36.5,1.5],[38.7,1.3],[27.3,1.45],[22.2,1.45],[21.9,1.3],[24.5,1.1],[29.5,1.1],[30.3,0.6],[27.3,0.7],[24.6,0.8],[23.6,0.7],[24.0,0.08],[20.2,1.2],[20.7,1.05],[19.5,1.15],[18.9,1.55],[18.8,1.95],[20.3,1.85],[19.2,0.8],[18.7,0.95],[17.9,0.75],[19.1,0.55],[17.4,0.5],[17.5,0.3],[19.4,0.15],[17.3,0.15],[19.6,0.15],[15.7,1.1],[15.3,1.5],[16.3,1.4],[15.4,0.55],[16.0,0.45],[15.5,1.85],[15.8,1.8],[14.8,1.9],[14.0,1.5],[13.6,1.6],[13.1,0.85],[12.4,0.6],[12.0,1.5],[13.3,0.25],[14.1,0.05],[13.8,0.1],[12.6,0.15],[10.6,0.08],[9.4,0.05],[7.9,0.02],[6.4,0.05],[5.3,0.05],[2.7,0.0],[1.2,0.05],
[0.3,0.2],[0.4,0.9],[0.5,1.6],[0.6,0.4],[0.7,2.2],[0.8,1.1],[0.9,0.1],[1.0,1.9],[1.1,0.7],[1.2,1.3],[1.3,0.25],[1.4,2.3],[1.5,0.9],[1.6,1.6],[1.7,0.5],[1.8,0.05],[1.9,1.2],[2.0,2.0],[2.1,0.35],[2.2,0.8],[2.4,1.5],[2.6,0.15],[2.8,1.0],[3.0,1.8],[3.2,0.5],[3.4,1.3],[3.6,0.2],[3.8,0.9],[4.0,1.7],[4.2,0.4],[4.4,1.1],[4.6,1.9],[4.8,0.6],[5.0,0.15],[5.2,1.3],[5.4,0.8],[5.6,1.75],[5.8,0.3],[6.0,1.0],[6.2,1.5],[6.4,0.55],[6.6,1.9],[6.8,0.2],[7.0,1.2],[7.2,0.7],[7.4,1.6],[7.6,0.35],[7.8,1.0],[8.0,1.95],[8.3,0.6],[8.6,1.3],[8.9,0.15],[9.2,0.9],[9.5,1.6],[9.8,0.45],[10.1,1.1],[10.4,1.5],[10.7,0.3],[11.0,0.8],[11.3,1.3],[11.6,0.5],[11.9,1.0],[12.2,0.2],[12.5,0.75],[0.4,0.5],[0.6,1.3],[0.8,0.3],[1.0,0.85],[1.2,2.0],[1.4,0.6],[1.6,0.1],[1.8,1.45],[2.0,0.7],[2.2,1.2],[2.4,0.3],[2.6,1.7],[2.8,0.45],[3.0,0.05],[3.3,0.75],[3.6,1.55],[3.9,0.3],[4.2,0.95],[4.5,0.05],[4.8,1.4],[5.1,0.45],[5.4,1.95],[5.7,0.7],[6.0,0.05],[6.3,1.25],[6.6,0.85],[6.9,0.45],[7.2,1.85],[7.5,1.0],[0.3,0.65],[0.5,0.05],[0.7,0.75],[0.9,1.5],[1.1,0.15],[1.3,0.95],[1.5,0.4],[1.7,1.1],[1.9,0.2],[2.1,0.55],[0.2,1.0],[0.5,2.0],[0.8,0.6],[1.0,0.35],[1.3,1.65]];
const turquoiseBCore=[[0.5,0.3],[0.6,0.8],[0.7,0.05],[0.8,0.5],[0.9,1.0],[1.0,0.2],[1.1,0.6],[1.2,1.1],[1.3,0.1],[1.4,0.4],[1.5,0.75],[1.6,1.25],[1.7,0.25],[1.8,0.6],[1.9,0.95],[2.0,0.1],[2.2,0.45],[2.3,0.9],[2.5,0.2],[2.7,0.6],[2.9,1.1],[3.1,0.3],[3.3,0.05],[3.5,0.55],[3.8,0.85],[4.0,0.1],[4.3,0.5],[4.6,0.3],[0.4,0.15],[0.6,1.2],[0.8,0.25],[1.0,0.75],[1.2,0.4],[1.4,1.5],[1.6,0.05],[1.8,0.35],[2.1,0.7],[2.4,1.3],[2.6,0.0],[2.8,0.4]];
const yellowB=[[10.2,8.85],[0.3,6.0],[0.8,5.85],[1.0,5.95],[2.1,6.0],[6.6,6.0],[0.8,5.3],[0.7,5.0],[1.4,5.05],[1.6,5.2],[7.2,5.3],[5.1,4.85],[8.6,4.8],[10.2,5.0],[10.7,4.9],[7.4,4.7],[1.8,4.45],[4.4,4.45],[2.6,4.35],[2.0,4.15],[6.6,4.2],[9.2,4.2],[9.5,4.1],[10.3,4.15],[9.5,4.0],[2.8,4.0],[0.8,3.85],[1.3,3.9],[0.8,3.7],[10.6,3.85],[7.6,3.75],[7.8,3.8],[8.9,3.7],[1.8,3.6],[1.9,3.5],[0.5,3.4],[0.5,3.3],[6.0,3.4],[7.0,3.35],[9.5,3.35],[11.3,3.55],[12.5,3.25],[2.6,3.25],[5.6,2.95],[5.8,3.0],[7.5,2.95],[9.6,2.95],[1.6,2.85],[0.7,2.85],[0.9,2.7],[1.0,2.75],[7.4,2.75],[5.1,2.6],[6.2,2.55],[7.1,2.6],[11.4,2.65],[1.4,2.55],[2.0,2.3],[0.7,2.25],[1.1,2.2],[3.1,2.35],[3.5,2.3],[4.5,2.4],[1.4,2.05],[1.9,2.1],[3.8,2.15],[3.9,2.05],[7.0,2.2],[7.9,2.25],[8.9,2.1],[10.3,2.2],[11.0,2.5],[10.7,2.05],[6.5,1.9],[0.6,1.95],[0.8,1.6],[0.4,1.8],[1.0,1.55],[0.3,1.6],[5.1,1.7],[5.7,1.6],[3.7,1.6],[3.8,1.45],[2.2,1.5],[2.2,1.4],[2.9,1.35],[2.6,1.2],[1.2,1.2],[1.8,1.2],[0.5,1.1],[0.9,1.05],[5.2,1.1],[5.6,1.1],[6.2,1.2],[4.6,0.95],[0.3,0.85],[0.7,0.9],[1.0,0.75],[2.1,1.1],[0.4,0.6],[0.6,0.55],[1.6,0.6],[1.8,0.55],[5.2,0.6],[5.4,0.65],[5.3,0.45],[4.3,0.5],[0.2,0.25],[0.5,0.35],[0.9,0.4],[1.0,0.2],[1.7,0.15],[2.0,0.3],[0.4,0.1],[0.7,0.05],[1.8,0.0],[0.9,0.0]];

// ---------- axis ranges, ticks and titles ----------
const titles=["Black module, cor=0.0017, p=0.99","Blue module, cor=0.061, p=0.41","Brown module, cor=0.13, p=0.086","Green module, cor=0.015, p=0.87",
"Grey module, cor=0.00042, p=0.99","Red module, cor=-0.21, p=0.032","Turquoise module, cor=0.28, p=9.9e-09","Yellow module, cor=0.55, p=9.3e-13",
"Black module, cor=-0.1, p=0.45","Blue module, cor=0.18, p=0.014","Brown module, cor=0.56, p=7.8e-16","Green module, cor=0.069, p=0.45",
"Grey module, cor=0.27, p=5.5e-26","Red module, cor=-0.043, p=0.66","Turquoise module, cor=0.16, p=0.0012","Yellow module, cor=0.36 p=9.3e-06"];
const series=[blackA,blueA,brownA,greenA,greyA.concat(greyACore),redA,turquoiseA.concat(turquoiseACore),yellowA,blackB,blueB,brownB,greenB,greyB.concat(greyBCore),redB,turquoiseB.concat(turquoiseBCore),yellowB];
const seriesNames=["black-a","blue-a","brown-a","green-a","grey-a","red-a","turquoise-a","yellow-a","black-b","blue-b","brown-b","green-b","grey-b","red-b","turquoise-b","yellow-b"];
const colors=["#1a1a1a","#0000ff","#a52a2a","#00ee00","#bebebe","#ff0000","#40e0d0","#f2f200"];
const xRanges=[[0.14,4.46],[-0.38,19.6],[-0.31,12.38],[0.03,8.89],[-0.19,5.39],[0.097,5.49],[-1.01,40.3],[-0.28,12.7]];
const yRanges=[[-0.075,1.916],[-0.15,3.86],[-0.11,2.80],[-0.086,2.20],[-0.235,5.72],[-0.14,3.43],[-0.2,4.82],[-0.24,6.26],
[-0.14,5.19],[-0.26,6.5],[-0.29,10.68],[-0.22,5.63],[-0.44,10.53],[-0.28,6.69],[-0.26,6.08],[-0.38,9.18]];
const xTicks=[[1,2,3,4],[0,5,10,15],[0,2,4,6,8,10,12],[2,4,6,8],[0,1,2,3,4,5],[1,2,3,4,5],[0,10,20,30,40],[0,2,4,6,8,10,12]];
const yTicks=[[0,0.5,1,1.5],[0,1,2,3],[0,0.5,1,1.5,2,2.5],[0,0.5,1,1.5,2],[0,1,2,3,4,5],[0,0.5,1,1.5,2,2.5,3],[0,1,2,3,4],[0,1,2,3,4,5,6],
[0,1,2,3,4,5],[0,1,2,3,4,5,6],[0,2,4,6,8,10],[0,1,2,3,4,5],[0,2,4,6,8,10],[0,1,2,3,4,5,6],[0,1,2,3,4,5,6],[0,2,4,6,8]];
const yTickLabels=[["0.0","0.5","1.0","1.5"],["0","1","2","3"],["0.0","0.5","1.0","1.5","2.0","2.5"],["0.0","0.5","1.0","1.5","2.0"],["0","1","2","3","4","5"],["0.0","","1.0","","2.0","","3.0"],["0","1","2","3","4"],["0","1","2","3","4","5","6"],
["0","1","2","3","4","5"],["0","1","2","3","4","5","6"],["0","2","4","6","8","10"],["0","1","2","3","4","5"],["0","2","4","6","8","10"],["0","1","2","3","4","5","6"],["0","1","2","3","4","5","6"],["0","2","4","6","8"]];

// ---------- layout ----------
const colL=[98.5,667.6,1230,1798], colR=[536,1105.8,1666.6,2235.7];
const rowT=[66,579,1109,1634], rowB=[413,926,1456,1981];
const titleY=[37,557,1081,1601];
const ylabOff=[70,82,79,75];
const NS="http://www.w3.org/2000/svg";
const svg=document.getElementById('fig');
function el(tag,attrs,parent){const e=document.createElementNS(NS,tag);for(const k in attrs)e.setAttribute(k,attrs[k]);(parent||svg).appendChild(e);return e;}

for(let p=0;p<16;p++){
  const row=Math.floor(p/4), col=p%4, kind=p%8;
  const L=colL[col],R=colR[col],T=rowT[row],B=rowB[row];
  const xr=xRanges[kind], yr=yRanges[p];
  const sx=v=>L+(v-xr[0])/(xr[1]-xr[0])*(R-L);
  const sy=v=>B-(v-yr[0])/(yr[1]-yr[0])*(B-T);
  const g=el('g',{});
  
  
  const t=el('text',{x:(L+R)/2,y:titleY[row],'font-size':25,'text-anchor':'middle'},g);
  t.textContent=titles[p];
  
  
  const pts=el('g',{fill:'none',stroke:colors[kind],'stroke-width':2.1},g);
  
  
  series[p].forEach(d=>{
    const c=el('circle',{cx:sx(d[0]).toFixed(1),cy:sy(d[1]).toFixed(1),r:4.3},pts);
    
    
  });
  const box=el('rect',{x:L,y:T,width:R-L,height:B-T,fill:'none',stroke:'#333','stroke-width':2.2},g);
  
  
  const xa=el('g',{stroke:'#333','stroke-width':2},g);
  
  
  xTicks[kind].forEach(v=>{
    const X=sx(v);
    el('line',{x1:X,x2:X,y1:B,y2:B+11},xa);
    const tl=el('text',{x:X,y:B+39,'font-size':25,'text-anchor':'middle',stroke:'none'},xa);
    tl.textContent=String(v);
    
    
  });
  const xl=el('text',{x:(L+R)/2,y:B+79,'font-size':25,'text-anchor':'middle'},g);
  xl.textContent='Intramodular k';
  
  
  const ya=el('g',{stroke:'#333','stroke-width':2},g);
  
  
  yTicks[p].forEach((v,i)=>{
    const Y=sy(v);
    el('line',{x1:L-11,x2:L,y1:Y,y2:Y},ya);
    const lab=yTickLabels[p][i];
    if(lab){
      const tx=L-25;
      const tl=el('text',{x:tx,y:Y,'font-size':25,'text-anchor':'middle',stroke:'none',transform:'rotate(-90 '+tx+' '+Y+')'},ya);
      tl.textContent=lab;
      
      
    }
  });
  const yx=L-ylabOff[col]+9, yy=(T+B)/2;
  const yl=el('text',{x:yx,y:yy,'font-size':25,'text-anchor':'middle',transform:'rotate(-90 '+yx+' '+yy+')'},g);
  yl.textContent='Gene significance';
  
  
}
</script>
</body></html>
